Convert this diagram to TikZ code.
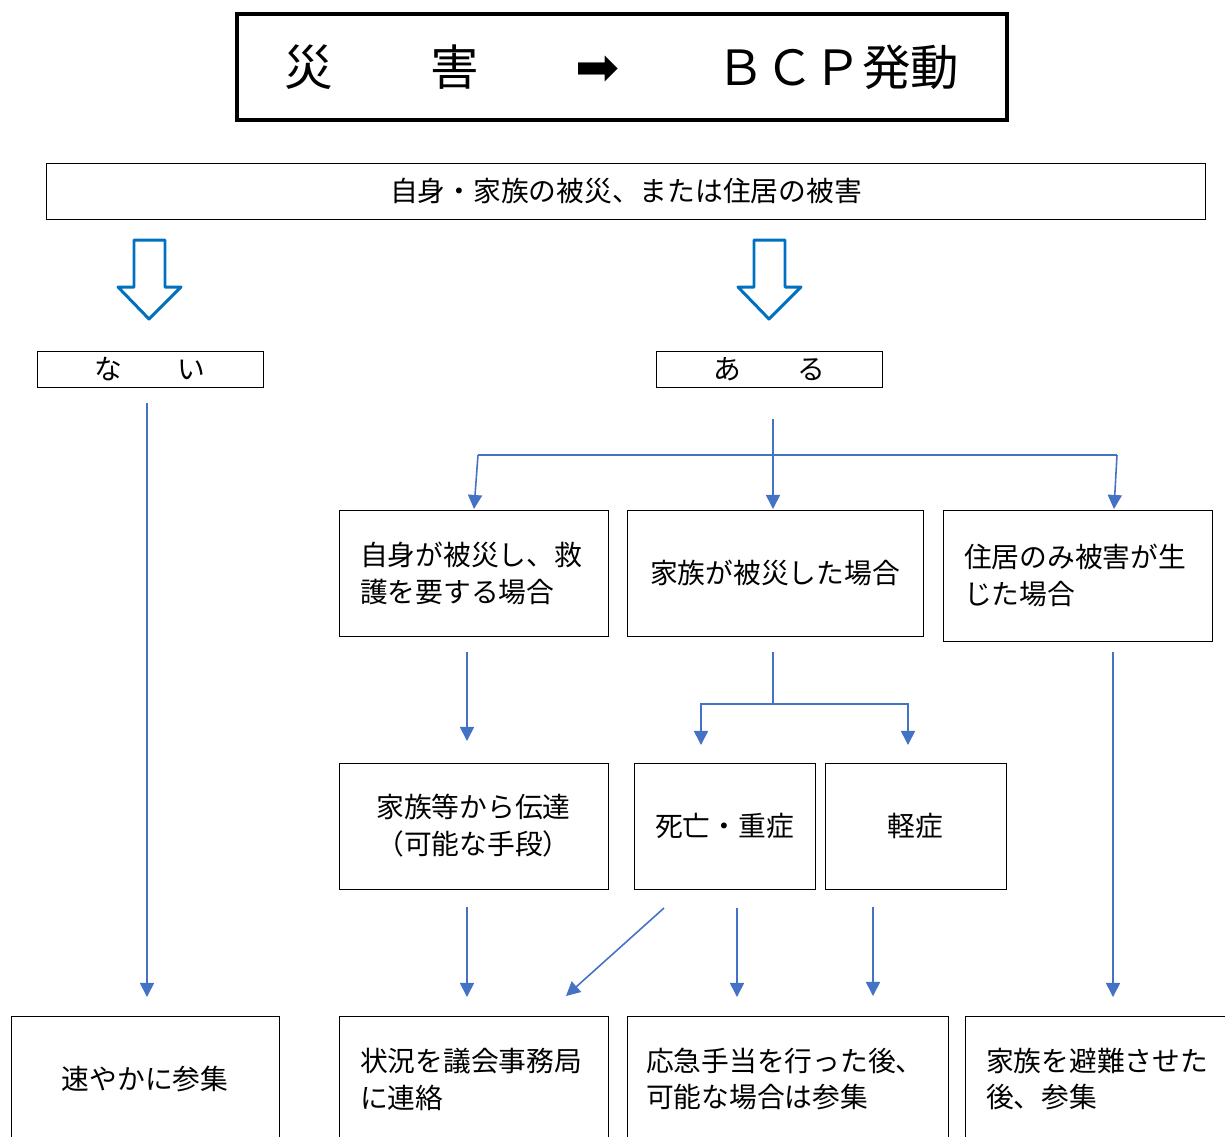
\documentclass[tikz,border=0pt]{standalone}
\usepackage{fontspec}
\setmainfont{Noto Sans CJK JP}
\newfontfamily\symfont{DejaVu Sans}
\usetikzlibrary{arrows.meta}
\definecolor{linkblue}{RGB}{68,114,196}
\definecolor{bigblue}{RGB}{0,112,192}

\begin{document}
\begin{tikzpicture}[x=0.02cm,y=-0.02cm,
  box/.style={draw,line width=0.5pt,inner sep=0pt,minimum width=5.38cm,minimum height=2.52cm,
    font=\fontsize{15.8pt}{21pt}\selectfont},
  lbox/.style={box,align=left,text width=#1},
  cbox/.style={box,align=center},
  wire/.style={draw=linkblue,line width=0.9pt},
  link/.style={wire,-{Triangle[width=8pt,length=8pt]}}]
\useasboundingbox (0,0) rectangle (1225,1137);
\clip (0,0) rectangle (1225,1137);

% title
\node [draw,line width=2.3pt,minimum width=15.4cm,minimum height=2.12cm,inner sep=0pt,
  font=\fontsize{27.6pt}{30pt}\selectfont] (title) at (622,67)
  {災　　害　　{\symfont\fontsize{30pt}{30pt}\selectfont ➡}　　ＢＣＰ発動};
\node [box,minimum width=23.2cm,minimum height=1.12cm] (damage) at (626,191)
  {自身・家族の被災、または住居の被害};

% big hollow arrows
\foreach \c in {149,769}
  \draw [bigblue,line width=1.7pt,line join=round]
    ({\c-15},240) -- ({\c+16},240) -- ({\c+16},287) -- ({\c+32},287)
    -- (\c,319) -- ({\c-31},287) -- ({\c-15},287) -- cycle;

\node [box,minimum width=4.52cm,minimum height=0.72cm] (nai) at (150,369) {な　　い};
\node [box,minimum width=4.52cm,minimum height=0.72cm] (aru) at (769.5,369) {あ　　る};

% second row
\node [lbox=4.54cm] (self) at (473.5,573) {自身が被災し、救\\護を要する場合};
\node [cbox,minimum width=5.92cm] (family) at (775,573) {家族が被災した場合};
\node [lbox=4.54cm,minimum height=2.62cm] (house) at (1077.5,575.5) {住居のみ被害が生\\じた場合};

% third row
\node [cbox] (tell) at (473.5,826) {家族等から伝達\\（可能な手段）};
\node [cbox,minimum width=3.62cm] (severe) at (724.5,826) {死亡・重症};
\node [cbox,minimum width=3.62cm] (mild) at (915.5,826) {軽症};

% bottom row
\node [cbox,minimum width=5.36cm] (go) at (145,1079) {速やかに参集};
\node [lbox=4.54cm] (report) at (473.5,1079) {状況を議会事務局\\に連絡};
\node [lbox=5.66cm,minimum width=6.42cm] (aid) at (787.5,1079) {応急手当を行った後、\\可能な場合は参集};
\node [lbox=4.54cm] (evac) at (1099.5,1079) {家族を避難させた\\後、参集};

% connector ends
\coordinate (naiout) at (147,403);
\coordinate (goin) at (147,997);
\coordinate (aruout) at (773,419);
\coordinate (forkL) at (478,455);
\coordinate (forkR) at (1117,455);
\coordinate (selfin) at (474,509);
\coordinate (familyin) at (773,509);
\coordinate (housein) at (1114,509);
\coordinate (selfout) at (467,652);
\coordinate (tellin) at (467,741);
\coordinate (familyout) at (773,652);
\coordinate (famfork) at (773,704);
\coordinate (severefork) at (701,704);
\coordinate (mildfork) at (908,704);
\coordinate (severein) at (701,745);
\coordinate (mildin) at (908,745);
\coordinate (houseout) at (1113,652);
\coordinate (evacin) at (1113,997);
\coordinate (tellout) at (467,907);
\coordinate (reportin) at (467,997);
\coordinate (severeoutL) at (664,908);
\coordinate (reportinR) at (566,996);
\coordinate (severeout) at (737,908);
\coordinate (aidin) at (737,997);
\coordinate (mildout) at (873,907);
\coordinate (aidinR) at (873,996);

% connectors
\draw [link] (naiout) -- (goin);
\draw [link] (aruout) -- (familyin);
\draw [wire] (forkL) -- (forkR);
\draw [link] (forkL) -- (selfin);
\draw [link] (forkR) -- (housein);
\draw [link] (selfout) -- (tellin);
\draw [wire] (familyout) -- (famfork);
\draw [link] (severefork) -- (mildfork) -- (mildin);
\draw [link] (mildfork) -- (severefork) -- (severein);
\draw [link] (houseout) -- (evacin);
\draw [link] (tellout) -- (reportin);
\draw [link] (severeoutL) -- (reportinR);
\draw [link] (severeout) -- (aidin);
\draw [link] (mildout) -- (aidinR);
\end{tikzpicture}
\end{document}
